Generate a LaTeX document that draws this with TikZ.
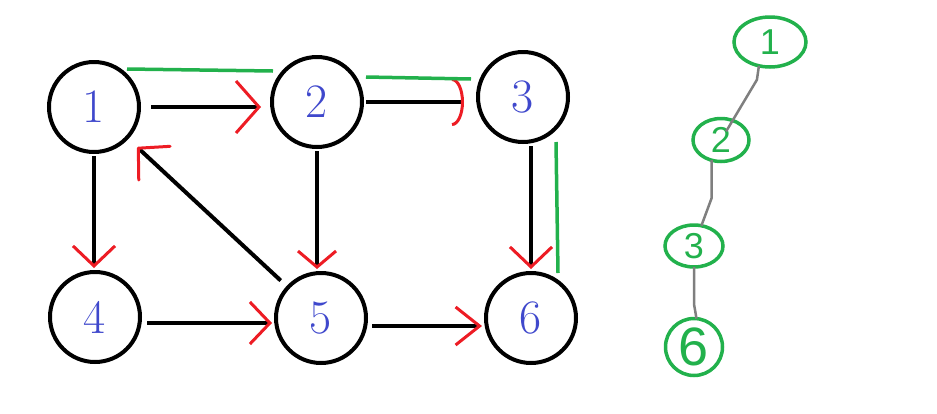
\documentclass[tikz,border=0pt]{standalone}
\usepackage{tikz}
\usepackage{fontspec}
\usetikzlibrary{shapes}
\usetikzlibrary{positioning}
\usetikzlibrary{arrows.meta}
\newfontfamily\handfont{Liberation Sans}
\definecolor{paintblue}{HTML}{3F48CC}
\definecolor{paintred}{HTML}{ED1C24}
\definecolor{paintgreen}{HTML}{22B14C}
\definecolor{paintgray}{HTML}{7F7F7F}

\begin{document}
\begin{tikzpicture}[x=1pt,y=-1pt]
		\useasboundingbox (0,0) rectangle (937,413);
		\tikzstyle{every node}=[draw,shape=circle,line width=4pt,minimum size=90pt,inner sep=0pt,outer sep=4pt,text=paintblue,font=\fontsize{48}{48}\selectfont];
		\tikzstyle{arrowline}=[line width=4pt,-{Straight Barb[color=paintred,line width=3pt,length=20pt,width=42pt]}];
		\tikzstyle{greenmark}=[paintgreen,line width=3.5pt];
		\tikzstyle{treenode}=[shape=ellipse,draw=paintgreen,text=paintgreen,line width=3.5pt,outer sep=0pt];
		\tikzstyle{treeline}=[paintgray,line width=2.5pt];
		% the graph
		\path (94,107)  node (v1) {1};
		\path (317,102) node (v2) {2};
		\path (523,97)  node (v3) {3};
		\path (95,317)  node (v4) {4};
		\path (321,318) node (v5) {5};
		\path (531,318) node (v6) {6};
		\draw[arrowline, shorten <=8pt, shorten >=7pt,
			-{Straight Barb[color=paintred,line width=3pt,length=23pt,width=52pt]}] (v1.east) -- (v1.east -| v2.west);
		\draw[arrowline, shorten >=10pt,
			-{Arc Barb[color=paintred,line width=3pt,length=12pt,width=48pt]}] (v2.east) -- (v2.east -| v3.west);
		\draw[arrowline] (v1.south) -- (v1.south |- v4.north);
		\draw[arrowline, -{Straight Barb[color=paintred,line width=3pt,length=16pt,width=38pt]}] (v2.south) -- (v2.south |- v5.north);
		\draw[arrowline] (v6.north |- v3.south) -- (v6.north);
		\draw[arrowline, shorten <=3pt] ([yshift=-6pt]v4.east) -- ([yshift=-6pt]v4.east -| v5.west);
		\draw[arrowline, shorten <=2pt,
			-{Straight Barb[color=paintred,line width=3pt,length=24pt,width=38pt]}] ([yshift=-8pt]v5.east) -- ([yshift=-8pt]v5.east -| v6.west);
		\draw[arrowline, shorten <=6pt, shorten >=10pt,
			-{Straight Barb[color=paintred,line width=3pt,length=22pt,width=46pt,round]}] (v5) -- (v1);
		% green marks
		\draw[greenmark] (127,69) -- (273,71);
		\draw[greenmark] (366,77) -- (471,79);
		\draw[greenmark] (556,142) -- (558,273);
		% the tree
		\path (770,42)  node[treenode,minimum width=72pt,minimum height=50pt,font=\handfont\fontsize{36}{36}\selectfont] (u1) {1};
		\path (721,140) node[treenode,minimum width=56pt,minimum height=43pt,font=\handfont\fontsize{36}{36}\selectfont] (u2) {2};
		\path (694,246) node[treenode,minimum width=58pt,minimum height=42pt,font=\handfont\fontsize{36}{36}\selectfont] (u3) {3};
		\path (694,347) node[treenode,minimum width=57pt,minimum height=57pt,font=\handfont\fontsize{54}{54}\selectfont] (u6) {6};
		\draw[treeline, shorten >=10pt] (u1.245) -- ++(-2,14) -- (u2.center);
		\draw[treeline] (u2.245) -- ++(0,38) -- (u3.70);
		\draw[treeline] (u3.south) -- ++(0,37) -- (u6.85);
\end{tikzpicture}
\end{document}
